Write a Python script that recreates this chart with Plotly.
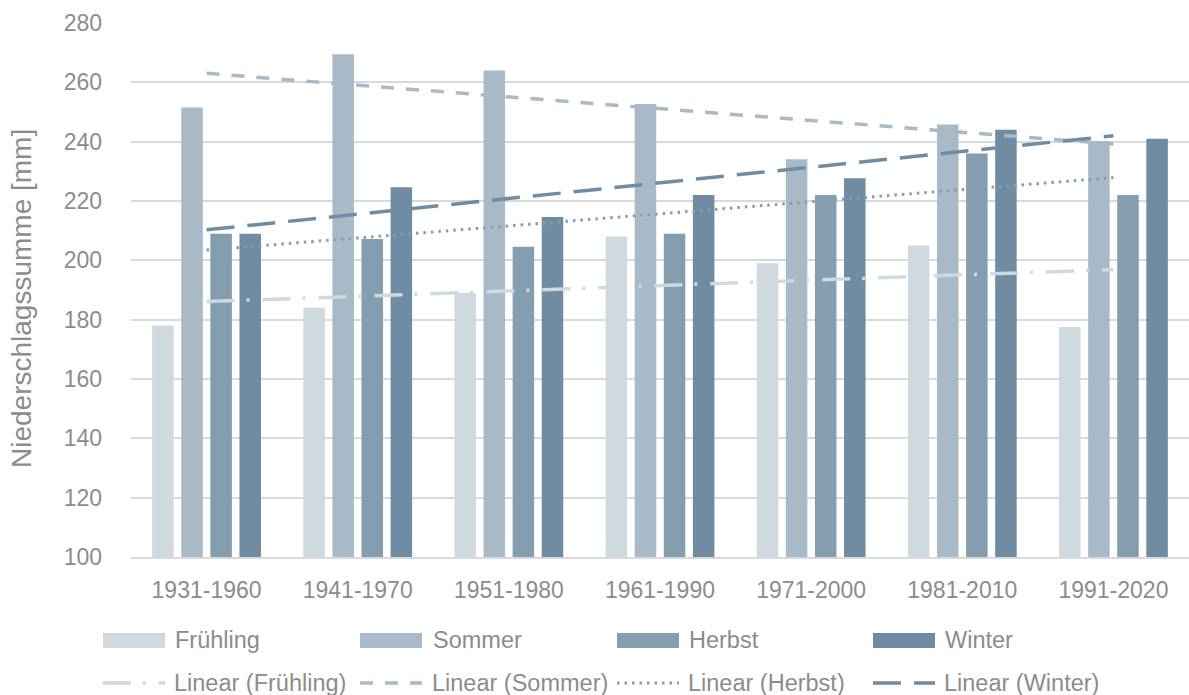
import numpy as np
import plotly.graph_objects as go

categories = ["1931-1960", "1941-1970", "1951-1980", "1961-1990", "1971-2000", "1981-2010", "1991-2020"]
fruehling = [178, 184, 189, 208, 199, 205, 177.5]
sommer = [251.5, 269.5, 264, 252.7, 234.1, 245.8, 240.2]
herbst = [209, 207.2, 204.6, 209, 222, 236, 222]
winter = [209, 224.6, 214.6, 222, 227.7, 244, 241]

series_names = ["Frühling", "Sommer", "Herbst", "Winter"]
series_values = [fruehling, sommer, herbst, winter]
colors = ["#CFD9E0", "#A8BAC7", "#849EB0", "#6F8CA2"]
dashes = ["28px,12px,3px,13px", "13px,12px", "2.5px,5px", "28px,13px"]
widths = [3.5, 3.5, 3, 3.5]

y_ticks = list(range(100, 281, 20))

TEXT = "#8C8C8C"
FONT = "Liberation Sans, Arial, sans-serif"

fig = go.Figure()
for name, vals, col in zip(series_names, series_values, colors):
    fig.add_trace(go.Bar(x=categories, y=vals, name=name, marker_color=col,
                         marker_line_width=0, showlegend=False))

idx = np.arange(len(categories))
for name, vals, col, dsh, w in zip(series_names, series_values, colors, dashes, widths):
    k, d = np.polyfit(idx, np.array(vals, dtype=float), 1)
    fit = k * idx + d
    fig.add_trace(go.Scatter(x=categories, y=fit, mode="lines", name=f"Linear ({name})",
                             line=dict(color=col, width=w, dash=dsh), showlegend=False))

# layout geometry (pixels)
L, R, T, B = 131, 0, 23, 138
W, H = 1189, 695
pw, ph = W - L - R, H - T - B

def px(x):
    return (x - L) / pw

def py(y):
    return (H - B - y) / ph

shapes = []
annotations = []
sym_x = [103, 360, 617, 873]
txt_x = [173, 431, 687, 943]
for i, (name, col, dsh, w) in enumerate(zip(series_names, colors, dashes, widths)):
    shapes.append(dict(type="rect", xref="paper", yref="paper",
                       x0=px(sym_x[i]), x1=px(sym_x[i] + 62), y0=py(648), y1=py(633),
                       fillcolor=col, line=dict(width=0)))
    annotations.append(dict(text=name, xref="paper", yref="paper", x=px(txt_x[i]), y=py(640),
                            xanchor="left", yanchor="middle", showarrow=False,
                            font=dict(size=23.5, color=TEXT, family=FONT)))
    shapes.append(dict(type="line", xref="paper", yref="paper",
                       x0=px(sym_x[i]), x1=px(sym_x[i] + 62), y0=py(683), y1=py(683),
                       line=dict(color=col, width=w, dash=dsh)))
    annotations.append(dict(text=f"Linear ({name})", xref="paper", yref="paper",
                            x=px(txt_x[i] - 1), y=py(683),
                            xanchor="left", yanchor="middle", showarrow=False,
                            font=dict(size=23.5, color=TEXT, family=FONT)))

annotations.append(dict(text="Niederschlagssumme [mm]", xref="paper", yref="paper",
                        x=px(22), y=py(299), textangle=-90, xanchor="center", yanchor="middle",
                        showarrow=False, font=dict(size=28, color=TEXT, family=FONT)))

fig.update_layout(
    width=W, height=H,
    margin=dict(l=L, r=R, t=T, b=B, pad=0),
    paper_bgcolor="white", plot_bgcolor="white",
    barmode="group", bargap=0.23, bargroupgap=0.26,
    font=dict(family=FONT, color=TEXT, size=23),
    shapes=shapes, annotations=annotations,
    showlegend=False,
)
fig.update_xaxes(showgrid=False, showline=True, linecolor="#D9D9D9", linewidth=1.5,
                 ticks="", tickfont=dict(size=23, color=TEXT), ticklabelstandoff=12)
fig.update_yaxes(range=[100, 280], tickvals=y_ticks, showgrid=True, gridcolor="#D9D9D9",
                 gridwidth=1.5, zeroline=False, showline=False, ticks="",
                 tickfont=dict(size=23, color=TEXT), ticklabelstandoff=28, automargin=False)

fig.write_html("out.html", config={"displayModeBar": False},
               post_script="document.body.style.margin='0';document.body.style.overflow='hidden';")
